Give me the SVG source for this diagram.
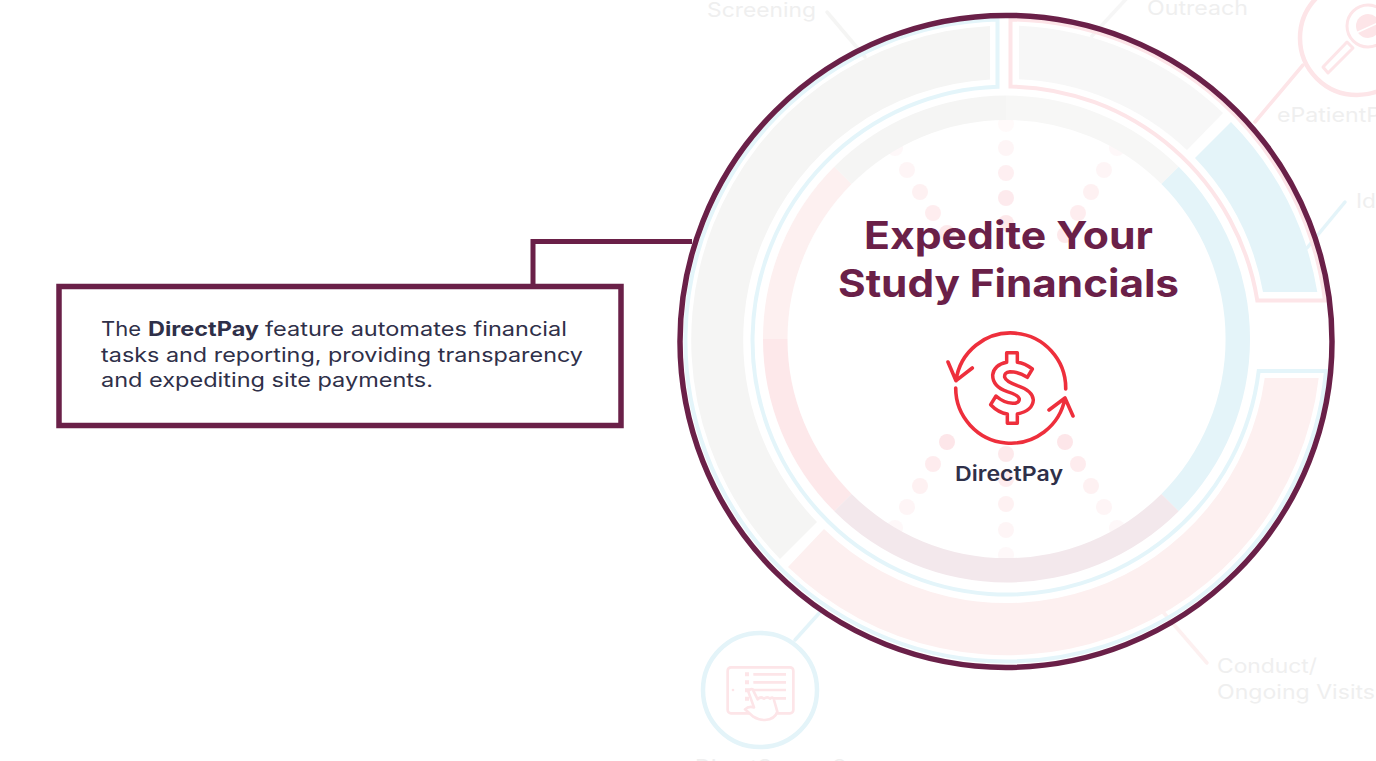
<svg xmlns="http://www.w3.org/2000/svg" width="1376" height="761" viewBox="0 0 1376 761">
<style>
text{font-family:Inter,"Liberation Sans",sans-serif}
.faded{font-size:20px;font-weight:400;fill:#efefef}
.body{font-size:20px;font-weight:400;fill:#2f3049}
.b{font-weight:700}
.title{font-size:38px;font-weight:700;fill:#6a2048}
.pk{fill:none;stroke:#fde5e8;stroke-width:3;stroke-linejoin:round;stroke-linecap:round}
.bl{fill:none;stroke:#e4f4f9;stroke-width:4.5}
.red{fill:none;stroke:#ee2f3c;stroke-width:3.6;stroke-linecap:round;stroke-linejoin:round}
.dot{fill:#fde5e8}
.link{fill:none;stroke-width:3.5;stroke-linecap:round}
</style>
<rect width="1376" height="761" fill="#ffffff"/>

<g id="connectors">
<path class="link" stroke="#f5f5f4" d="M827,12L865,57"/>
<path class="link" stroke="#f6f6f6" d="M1127,-2L1092,36"/>
<path class="link" stroke="#fde5e8" d="M1303,65L1255,122"/>
<path class="link" stroke="#e4f4f9" d="M1345,202L1307,248"/>
<path class="link" stroke="#fdf0f0" d="M1207,663L1163,612"/>
<path class="link" stroke="#e4f4f9" d="M795,640L822,610"/>
</g>

<g id="node-screening"><text class="faded" x="707" y="17" textLength="109" lengthAdjust="spacingAndGlyphs">Screening</text></g>
<g id="node-outreach"><text class="faded" x="1147" y="15" textLength="101" lengthAdjust="spacingAndGlyphs">Outreach</text></g>
<g id="node-epatient">
<circle cx="1357" cy="38" r="57" fill="#ffffff" stroke="#fde5e8" stroke-width="4.5"/>
<circle cx="1368" cy="26" r="21" fill="none" stroke="#fde5e8" stroke-width="3"/>
<circle cx="1368" cy="26" r="12" fill="#fde5e8"/>
<path d="M1356,33L1380,22" stroke="#ffffff" stroke-width="1.5" fill="none"/>
<path class="pk" d="M1353,48L1328,73L1323,67L1347,42Z"/>
<text class="faded" x="1277" y="122" textLength="104" lengthAdjust="spacingAndGlyphs">ePatientP</text>
</g>
<g id="node-id"><text class="faded" x="1356" y="208" textLength="20" lengthAdjust="spacingAndGlyphs">Id</text></g>
<g id="node-conduct">
<text class="faded" x="1217" y="673" textLength="100" lengthAdjust="spacingAndGlyphs">Conduct/</text>
<text class="faded" x="1217" y="699" textLength="158" lengthAdjust="spacingAndGlyphs">Ongoing Visits</text>
</g>
<g id="node-directsource">
<circle class="bl" cx="760" cy="690" r="57"/>
<g transform="translate(690 620) scale(.33333)">
<rect class="pk" style="stroke-width:8" x="113" y="142" width="197" height="138" rx="10"/>
<path class="pk" style="stroke-width:8;stroke-linecap:butt" d="M190,163H288M190,187H288M190,210H288M190,235H288"/>
<path fill="#fde5e8" d="M165,157h12v12h-12zM165,181h12v12h-12zM165,205h12v12h-12zM165,230h12v12h-12z"/>
<circle cx="129" cy="210" r="4" fill="#fde5e8"/>
<path fill="#ffffff" stroke="#fde5e8" stroke-width="8" stroke-linejoin="round" d="M192,262L175,215Q178,205 188,208L203,238Q212,228 222,236Q232,228 240,236Q250,228 252,240L262,275Q255,298 225,300Q205,300 190,290L165,268Q175,258 192,262Z"/>
</g>
<text class="faded" x="695" y="774" textLength="152" lengthAdjust="spacingAndGlyphs">DirectSource®</text>
</g>

<g id="dots">
<circle class="dot" cx="1006" cy="124" r="8" opacity=".2"/><circle class="dot" cx="1006" cy="148" r="8" opacity=".4"/><circle class="dot" cx="1006" cy="173" r="8" opacity=".6"/><circle class="dot" cx="1006" cy="198" r="8" opacity=".8"/><circle class="dot" cx="1006" cy="223" r="8" opacity=".9"/>
<circle class="dot" cx="895" cy="148" r="8" opacity=".25"/><circle class="dot" cx="907" cy="170" r="8" opacity=".4"/><circle class="dot" cx="920" cy="192" r="8" opacity=".55"/><circle class="dot" cx="933" cy="213" r="8" opacity=".7"/><circle class="dot" cx="947" cy="233" r="8" opacity=".85"/>
<circle class="dot" cx="1117" cy="148" r="8" opacity=".25"/><circle class="dot" cx="1104" cy="170" r="8" opacity=".4"/><circle class="dot" cx="1091" cy="192" r="8" opacity=".55"/><circle class="dot" cx="1078" cy="213" r="8" opacity=".7"/><circle class="dot" cx="1065" cy="235" r="8" opacity=".85"/>
<circle class="dot" cx="1006" cy="454" r="8" opacity=".85"/><circle class="dot" cx="1006" cy="479" r="8" opacity=".7"/><circle class="dot" cx="1006" cy="504" r="8" opacity=".55"/><circle class="dot" cx="1006" cy="530" r="8" opacity=".4"/><circle class="dot" cx="1006" cy="555" r="8" opacity=".25"/>
<circle class="dot" cx="947" cy="442" r="8" opacity=".95"/><circle class="dot" cx="933" cy="464" r="8" opacity=".75"/><circle class="dot" cx="920" cy="486" r="8" opacity=".55"/><circle class="dot" cx="907" cy="507" r="8" opacity=".4"/><circle class="dot" cx="895" cy="528" r="8" opacity=".25"/>
<circle class="dot" cx="1065" cy="442" r="8" opacity=".95"/><circle class="dot" cx="1078" cy="464" r="8" opacity=".75"/><circle class="dot" cx="1091" cy="486" r="8" opacity=".55"/><circle class="dot" cx="1104" cy="507" r="8" opacity=".4"/><circle class="dot" cx="1117" cy="528" r="8" opacity=".25"/>
</g>

<g id="inner-ring">
<path fill="#fdf0f0" d="M763,339A243.5,243.5 0 0 1 834.3,166.8L851.6,184.1A219,219 0 0 0 787.5,339Z"/>
<path fill="#fde8ea" d="M834.3,511.2A243.5,243.5 0 0 1 763,339H787.5A219,219 0 0 0 851.6,493.9Z"/>
<path fill="#f5f5f4" d="M834.3,166.8A243.5,243.5 0 0 1 1006,95.5V120A219,219 0 0 0 851.6,184.1Z"/>
<path fill="#f7f7f6" d="M1006,95.5A243.5,243.5 0 0 1 1178.7,166.8L1161.4,184.1A219,219 0 0 0 1006,120Z"/>
<path fill="#e4f4f9" d="M1178.7,166.8A243.5,243.5 0 0 1 1178.7,511.2L1161.4,493.9A219,219 0 0 0 1161.4,184.1Z"/>
<path fill="#f3e8ec" d="M1178.7,511.2A243.5,243.5 0 0 1 834.3,511.2L851.6,493.9A219,219 0 0 0 1161.4,493.9Z"/>
</g>

<g id="outer-ring">
<path fill="none" stroke="#e4f5fa" stroke-width="4" d="M997.5,19.6A321,321 0 1 0 1326,371L1258.7,371A254,254 0 1 1 997.5,86.7Z"/>
<path fill="none" stroke="#fde5e8" stroke-width="4" d="M1010.5,19.5A321,321 0 0 1 1325,300.5L1257.3,300.5A254,254 0 0 0 1010.5,86.5Z"/>
<path fill="#f5f5f4" d="M990,25.9A314.5,314.5 0 0 0 780,559L817,522A261,261 0 0 1 990,79.5Z"/>
<path fill="#fdf0f0" d="M788,567A314.5,314.5 0 0 0 1318.7,378L1264.7,378A261,261 0 0 1 824,529Z"/>
<path fill="#f7f7f7" d="M1019,25.8A314.5,314.5 0 0 1 1223,113L1187,150A261,261 0 0 0 1019,79.3Z"/>
<path fill="#e4f4f9" d="M1231,122A314.5,314.5 0 0 1 1317.3,292L1263,292A261,261 0 0 0 1195,158Z"/>
</g>

<g id="callout-connector">
<path fill="none" stroke="#6a2048" stroke-width="5" d="M533,286V241.500H692"/>
</g>
<g id="main-circle">
<circle cx="1006" cy="341.400" r="326" fill="none" stroke="#6a2048" stroke-width="5.500"/>
</g>

<g id="center">
<text class="title" x="864" y="249" textLength="289" lengthAdjust="spacingAndGlyphs">Expedite Your</text>
<text class="title" x="838" y="297" textLength="341" lengthAdjust="spacingAndGlyphs">Study Financials</text>
<path class="red" d="M1065.700,389A55.100,55.100 0 0 0 956,380.700M948,362L956,380.700L972.300,368"/>
<path class="red" d="M955.700,388A55.100,55.100 0 0 0 1065,398M1049,410L1065,398L1073,416"/>
<g transform="translate(930 320) scale(.33333)">
<path class="red" style="stroke-width:10.500" d="M230,98H262V127Q285,130 307,147L292,172Q265,155 240,155Q222,157 224,172Q228,185 262,197Q308,212 310,240Q308,272 262,282V310H232V282Q205,278 182,254L198,228Q220,248 248,250Q268,250 268,237Q265,225 232,215Q188,200 188,165Q192,135 230,127Z"/>
</g>
<text x="955" y="481" font-size="20.500" font-weight="600" fill="#2f3049" textLength="108" lengthAdjust="spacingAndGlyphs">DirectPay</text>
</g>

<g id="callout">
<rect x="59" y="286.500" width="562" height="139" fill="#ffffff" stroke="#6a2048" stroke-width="5.500"/>
<text class="body" x="101" y="336" textLength="40" lengthAdjust="spacingAndGlyphs">The</text>
<text class="body b" x="148" y="336" textLength="111" lengthAdjust="spacingAndGlyphs">DirectPay</text>
<text class="body" x="265" y="336" textLength="302" lengthAdjust="spacingAndGlyphs">feature automates financial</text>
<text class="body" x="101" y="362" textLength="482" lengthAdjust="spacingAndGlyphs">tasks and reporting, providing transparency</text>
<text class="body" x="101" y="387" textLength="332" lengthAdjust="spacingAndGlyphs">and expediting site payments.</text>
</g>
</svg>
